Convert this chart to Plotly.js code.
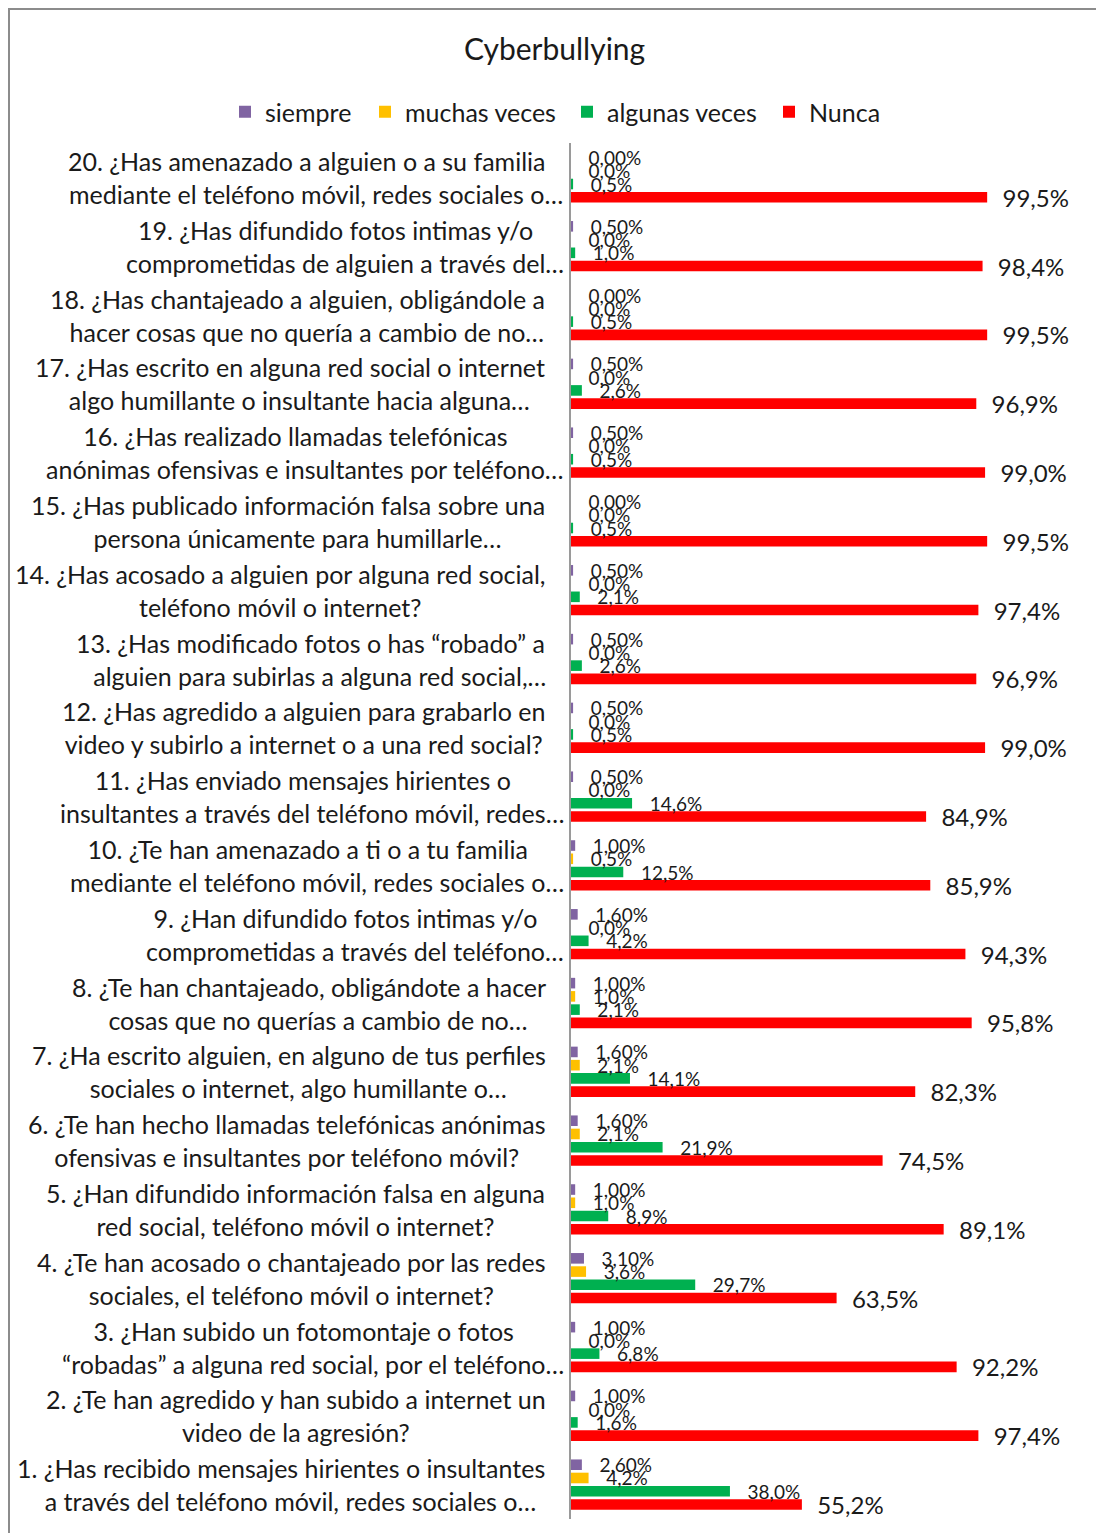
<!DOCTYPE html>
<html>
<head>
<meta charset="utf-8">
<script src="https://cdn.plot.ly/plotly-3.0.1.min.js"></script>
<style>
  html, body { margin: 0; padding: 0; background: #fff; overflow: hidden; }
  #chart { width: 1096px; height: 1533px; }
  #frame { position: absolute; left: 8px; top: 8px; width: 1300px; height: 1700px;
           border: 2px solid #8c8c8c; pointer-events: none; box-sizing: border-box; }
</style>
</head>
<body>
<div id="chart"></div>
<div id="frame"></div>
<script>
// Categories from bottom (1) to top (20)
const categories = [
  "1. ¿Has recibido mensajes hirientes o insultantes<br>a través del teléfono móvil, redes sociales o…",
  "2. ¿Te han agredido y han subido a internet un<br>video de la agresión?",
  "3. ¿Han subido un fotomontaje o fotos<br>“robadas” a alguna red social, por el teléfono…",
  "4. ¿Te han acosado o chantajeado por las redes<br>sociales, el teléfono móvil o internet?",
  "5. ¿Han difundido información falsa en alguna<br>red social, teléfono móvil o internet?",
  "6. ¿Te han hecho llamadas telefónicas anónimas<br>ofensivas e insultantes por teléfono móvil?",
  "7. ¿Ha escrito alguien, en alguno de tus perfiles<br>sociales o internet, algo humillante o…",
  "8. ¿Te han chantajeado, obligándote a hacer<br>cosas que no querías a cambio de no…",
  "9. ¿Han difundido fotos intimas y/o<br>comprometidas a través del teléfono…",
  "10. ¿Te han amenazado a ti o a tu familia<br>mediante el teléfono móvil, redes sociales o…",
  "11. ¿Has enviado mensajes hirientes o<br>insultantes a través del teléfono móvil, redes…",
  "12. ¿Has agredido a alguien para grabarlo en<br>video y subirlo a internet o a una red social?",
  "13. ¿Has modificado fotos o has “robado” a<br>alguien para subirlas a alguna red social,…",
  "14. ¿Has acosado a alguien por alguna red social,<br>teléfono móvil o internet?",
  "15. ¿Has publicado información falsa sobre una<br>persona únicamente para humillarle…",
  "16. ¿Has realizado llamadas telefónicas<br>anónimas ofensivas e insultantes por teléfono…",
  "17. ¿Has escrito en alguna red social o internet<br>algo humillante o insultante hacia alguna…",
  "18. ¿Has chantajeado a alguien, obligándole a<br>hacer cosas que no quería a cambio de no…",
  "19. ¿Has difundido fotos intimas y/o<br>comprometidas de alguien a través del…",
  "20. ¿Has amenazado a alguien o a su familia<br>mediante el teléfono móvil, redes sociales o…"
];

const siempre = [2.60, 1.00, 1.00, 3.10, 1.00, 1.60, 1.60, 1.00, 1.60, 1.00,
                 0.50, 0.50, 0.50, 0.50, 0.00, 0.50, 0.50, 0.00, 0.50, 0.00];
const muchasVeces = [4.2, 0.0, 0.0, 3.6, 1.0, 2.1, 2.1, 1.0, 0.0, 0.5,
                     0.0, 0.0, 0.0, 0.0, 0.0, 0.0, 0.0, 0.0, 0.0, 0.0];
const algunasVeces = [38.0, 1.6, 6.8, 29.7, 8.9, 21.9, 14.1, 2.1, 4.2, 12.5,
                      14.6, 0.5, 2.6, 2.1, 0.5, 0.5, 2.6, 0.5, 1.0, 0.5];
const nunca = [55.2, 97.4, 92.2, 63.5, 89.1, 74.5, 82.3, 95.8, 94.3, 85.9,
               84.9, 99.0, 96.9, 97.4, 99.5, 99.0, 96.9, 99.5, 98.4, 99.5];

const seriesNames = ["siempre", "muchas veces", "algunas veces", "Nunca"];
const seriesColors = ["#8064a2", "#ffc000", "#00b050", "#ff0000"];

const FONT = "Lato, 'Liberation Sans', sans-serif";
const yIdx = categories.map((c, i) => i);
const NB = "\u00a0";

function barTrace(name, vals, color, fmt, size, legendId) {
  return {
    type: "bar", orientation: "h", name: name,
    x: vals, y: yIdx, legend: legendId,
    marker: { color: color },
    texttemplate: fmt, textposition: "outside",
    textfont: { family: FONT, size: size, color: "#1a1a1a" },
    constraintext: "none", cliponaxis: false,
    hoverinfo: "skip"
  };
}

// Trace order bottom -> top within each group
const data = [
  barTrace(seriesNames[3], nunca, seriesColors[3], NB + NB + "%{x:.1f}%", 24, "legend4"),
  barTrace(seriesNames[2], algunasVeces, seriesColors[2], NB + NB + NB + "%{x:.1f}%", 19, "legend3"),
  barTrace(seriesNames[1], muchasVeces, seriesColors[1], NB + NB + NB + "%{x:.1f}%", 19, "legend2"),
  barTrace(seriesNames[0], siempre, seriesColors[0], NB + NB + NB + "%{x:.2f}%", 19, "legend")
];

// Centre each label line on its text, letting a trailing ellipsis hang out to the right
const GHOST = '<span style="color:rgba(0,0,0,0)">…</span>';
function labelText(c) {
  return c.split("<br>").map(line => line.endsWith("…") ? line : line + GHOST).join("<br>");
}

const annotations = categories.map((c, i) => ({
  text: labelText(c), xref: "x", yref: "y", x: 0, y: i,
  xanchor: "right", yanchor: "middle", align: "center",
  xshift: -5, showarrow: false,
  font: { family: FONT, size: 25, color: "#1a1a1a" }
}));

const W = 1096, ML = 8, MR = 8;
const PW = W - ML - MR;

function legendAt(px) {
  return {
    orientation: "h", xref: "container", yref: "container",
    x: px / W, y: 1 - 112 / 1533, xanchor: "left", yanchor: "middle",
    font: { family: FONT, size: 25, color: "#1a1a1a" },
    bgcolor: "rgba(0,0,0,0)"
  };
}

const layout = {
  width: 1096, height: 1533,
  paper_bgcolor: "#fff", plot_bgcolor: "#fff",
  separators: ",.",
  margin: { l: ML, r: MR, t: 143, b: 14 },
  barmode: "group", bargap: 0.23, bargroupgap: 0.2,
  showlegend: true,
  title: {
    text: "Cyberbullying", xref: "container", yref: "container",
    x: 0.506, y: 1 - 49 / 1533, xanchor: "center", yanchor: "middle",
    font: { family: FONT, size: 30, color: "#1a1a1a" }
  },
  legend: legendAt(225),
  legend2: legendAt(365),
  legend3: legendAt(567),
  legend4: legendAt(769),
  xaxis: {
    domain: [(571 - ML) / PW, (1052 - ML) / PW],
    range: [0, 115], showgrid: false, zeroline: false,
    showticklabels: false, ticks: "", showline: false, fixedrange: true
  },
  yaxis: {
    range: [-0.5, 19.5], showgrid: false, zeroline: false,
    showticklabels: false, ticks: "", showline: true,
    linecolor: "#9a9a9a", linewidth: 2, fixedrange: true
  },
  annotations: annotations,
  font: { family: FONT }
};

Plotly.newPlot("chart", data, layout, { staticPlot: true, displayModeBar: false });
</script>
</body>
</html>
